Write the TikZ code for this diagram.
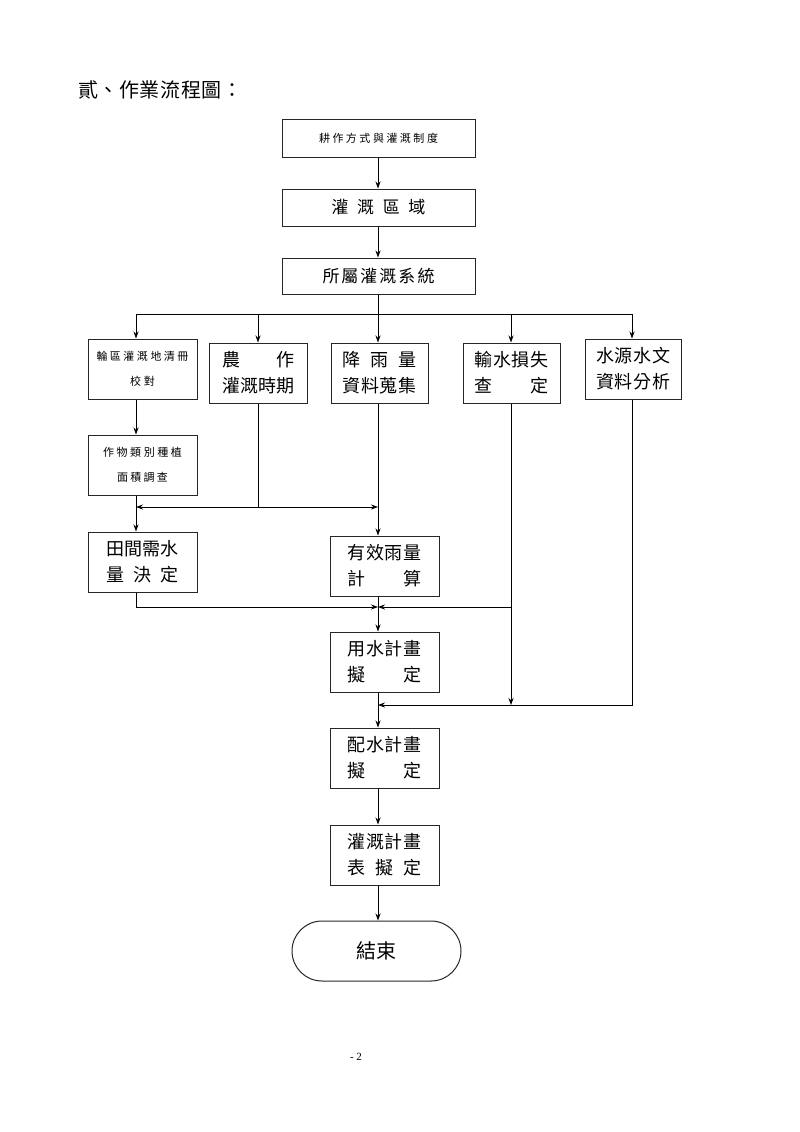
\documentclass[tikz,border=0pt]{standalone}
\usepackage{fontspec}
\setmainfont{Liberation Serif}
\newfontfamily\cjk{Noto Sans CJK TC}
\usetikzlibrary{arrows.meta}
\newcommand\jline[2]{\makebox[#1][s]{#2}}
\begin{document}
\begin{tikzpicture}[x=1pt,y=-1pt,
  box/.style={draw=black!85, line width=1pt, rectangle, inner sep=0pt, align=center},
  big/.style={font=\cjk\fontsize{18}{26}\selectfont},
  small/.style={font=\cjk\fontsize{11}{25}\selectfont},
  arr/.style={-{Stealth[length=7pt,width=5pt]}, line width=0.8pt},
  ln/.style={line width=0.8pt}]
\useasboundingbox (0,0) rectangle (800,1132);

\node[anchor=west, inner sep=0pt, font=\cjk\fontsize{20}{24}\selectfont] (title) at (78,90)
  {\jline{164pt}{貳\hfil 、\hfil 作\hfil 業\hfil 流\hfil 程\hfil 圖\hfil ：}};

\node[box, small, minimum width=193pt, minimum height=38pt] (b1) at (378.5,138)
  {\jline{119pt}{耕\hfil 作\hfil 方\hfil 式\hfil 與\hfil 灌\hfil 溉\hfil 制\hfil 度}};
\node[box, font=\cjk\fontsize{17}{24}\selectfont, minimum width=193pt, minimum height=37pt] (b2) at (378.5,207.5)
  {\jline{94pt}{灌\hfil 溉\hfil 區\hfil 域}};
\node[box, font=\cjk\fontsize{17}{24}\selectfont, minimum width=193pt, minimum height=36pt] (b3) at (378.5,276)
  {\jline{112pt}{所\hfil 屬\hfil 灌\hfil 溉\hfil 系\hfil 統}};

\node[box, small, minimum width=109pt, minimum height=60pt] (A) at (142.5,369)
  {\jline{92pt}{輪\hfil 區\hfil 灌\hfil 溉\hfil 地\hfil 清\hfil 冊}\\ 校\hspace{3pt}對};
\node[box, big, minimum width=98pt, minimum height=60pt] (B) at (258,373)
  {\jline{72pt}{農\hfill 作}\\ \jline{72pt}{灌\hfil 溉\hfil 時\hfil 期}};
\node[box, big, minimum width=97pt, minimum height=60pt] (C) at (379.5,373)
  {\jline{74pt}{降\hfil 雨\hfil 量}\\ \jline{74pt}{資\hfil 料\hfil 蒐\hfil 集}};
\node[box, big, minimum width=97pt, minimum height=60pt] (D) at (511.5,373)
  {\jline{74pt}{輸\hfil 水\hfil 損\hfil 失}\\ \jline{74pt}{查\hfill 定}};
\node[box, big, minimum width=96pt, minimum height=60pt] (E) at (633,369)
  {\jline{74pt}{水\hfil 源\hfil 水\hfil 文}\\ \jline{74pt}{資\hfil 料\hfil 分\hfil 析}};

\node[box, small, minimum width=109pt, minimum height=60pt] (F) at (142.5,465)
  {\jline{79pt}{作\hfil 物\hfil 類\hfil 別\hfil 種\hfil 植}\\ \jline{51pt}{面\hfil 積\hfil 調\hfil 查}};
\node[box, big, minimum width=109pt, minimum height=60pt] (G) at (142.5,562)
  {\jline{72pt}{田\hfil 間\hfil 需\hfil 水}\\ \jline{72pt}{量\hfil 決\hfil 定}};
\node[box, big, minimum width=109pt, minimum height=60pt] (H) at (384.5,566)
  {\jline{74pt}{有\hfil 效\hfil 雨\hfil 量}\\ \jline{74pt}{計\hfill 算}};
\node[box, big, minimum width=109pt, minimum height=60pt] (I) at (384.5,662)
  {\jline{74pt}{用\hfil 水\hfil 計\hfil 畫}\\ \jline{74pt}{擬\hfill 定}};
\node[box, big, minimum width=109pt, minimum height=60pt] (J) at (384.5,758)
  {\jline{74pt}{配\hfil 水\hfil 計\hfil 畫}\\ \jline{74pt}{擬\hfill 定}};
\node[box, big, minimum width=109pt, minimum height=60pt] (K) at (384.5,855)
  {\jline{74pt}{灌\hfil 溉\hfil 計\hfil 畫}\\ \jline{74pt}{表\hfil 擬\hfil 定}};
\node[box, rounded corners=30pt, font=\cjk\fontsize{20}{24}\selectfont, minimum width=169pt, minimum height=60pt] (T) at (376.5,951)
  {結束};

\node[inner sep=0pt, font=\fontsize{11}{13}\selectfont] (pg) at (356,1057) {- 2};

\coordinate (xa) at (136,0);
\coordinate (xb) at (258,0);
\coordinate (xc) at (378,0);
\coordinate (xd) at (511,0);
\coordinate (xe) at (632,0);
\coordinate (sp) at (378,314);
\coordinate (j1) at (258,507);
\coordinate (m2) at (378,607);
\coordinate (m3) at (378,705);

\draw[arr] (b1.south -| xc) -- (b2.north -| xc);
\draw[arr] (b2.south -| xc) -- (b3.north -| xc);
\draw[ln] (b3.south -| xc) -- (sp);
\draw[ln] (sp -| xa) -- (sp -| xe);
\foreach \n/\x in {A/xa,B/xb,C/xc,D/xd,E/xe}
  \draw[arr] (sp -| \x) -- (\n.north -| \x);
\draw[arr] (A.south -| xa) -- (F.north -| xa);
\draw[ln] (B.south -| xb) -- (j1);
\draw[arr] (j1) -- (j1 -| xa);
\draw[arr] (j1) -- (j1 -| xc);
\draw[arr] (F.south -| xa) -- (G.north -| xa);
\draw[arr] (C.south -| xc) -- (H.north -| xc);
\draw[arr] (G.south -| xa) |- (m2);
\draw[arr] (m2 -| xd) -- (m2);
\draw[arr] (D.south -| xd) -- (m3 -| xd);
\draw[arr] (E.south -| xe) |- (m3);
\draw[arr] (H.south -| xc) -- (I.north -| xc);
\draw[arr] (I.south -| xc) -- (J.north -| xc);
\draw[arr] (J.south -| xc) -- (K.north -| xc);
\draw[arr] (K.south -| xc) -- (T.north -| xc);
\end{tikzpicture}
\end{document}
